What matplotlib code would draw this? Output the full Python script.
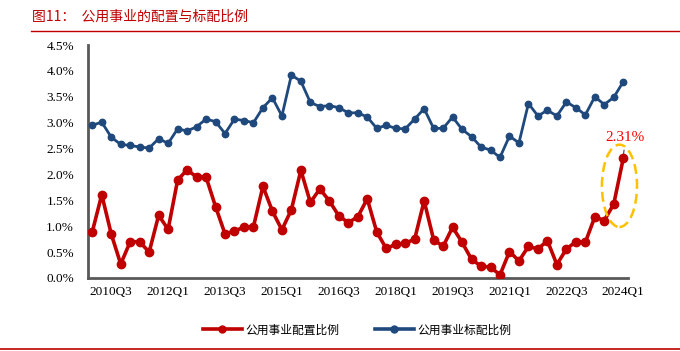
import matplotlib.pyplot as plt
from matplotlib.patches import Ellipse
from matplotlib.lines import Line2D
import numpy as np

plt.rcParams['font.family'] = ['Liberation Serif', 'Noto Sans CJK SC']

quarters = [f"{y}Q{q}" for y in range(2010, 2025) for q in range(1, 5)]
quarters = quarters[:quarters.index("2024Q1") + 1]

# 公用事业配置比例 (%)
alloc = [0.89, 1.61, 0.85, 0.27, 0.70, 0.70, 0.50, 1.21, 0.94, 1.89,
         2.09, 1.95, 1.95, 1.38, 0.85, 0.91, 0.98, 0.99, 1.77, 1.29,
         0.93, 1.32, 2.08, 1.46, 1.72, 1.49, 1.20, 1.07, 1.18, 1.53,
         0.89, 0.57, 0.65, 0.67, 0.75, 1.49, 0.74, 0.61, 0.98, 0.69,
         0.36, 0.23, 0.21, 0.06, 0.51, 0.33, 0.61, 0.56, 0.72, 0.26,
         0.56, 0.70, 0.69, 1.18, 1.11, 1.43, 2.31]
# 公用事业标配比例 (%)
bench = [2.95, 3.01, 2.72, 2.58, 2.56, 2.53, 2.51, 2.69, 2.60, 2.88,
         2.84, 2.92, 3.07, 3.02, 2.79, 3.07, 3.04, 3.00, 3.29, 3.48,
         3.13, 3.92, 3.80, 3.39, 3.31, 3.33, 3.29, 3.19, 3.19, 3.11,
         2.89, 2.95, 2.89, 2.88, 3.07, 3.27, 2.89, 2.89, 3.11, 2.87,
         2.73, 2.53, 2.47, 2.33, 2.74, 2.61, 3.37, 3.13, 3.24, 3.13,
         3.40, 3.29, 3.15, 3.50, 3.35, 3.49, 3.79]

RED = "#C00000"
BLUE = "#1F497D"

fig = plt.figure(figsize=(6.8, 3.51), dpi=100)
ax = fig.add_axes([88 / 680, 1 - 278 / 351, 540 / 680, 233 / 351])

x = np.arange(len(quarters))
ax.plot(x, bench, color=BLUE, lw=2.0, marker="o", ms=4.6, zorder=3)
ax.plot(x, alloc, color=RED, lw=2.6, marker="o", ms=6.0, zorder=4)

ax.set_xlim(-0.45, len(quarters) - 0.5)
ax.set_ylim(0, 4.5)
ax.set_yticks(np.arange(0, 4.51, 0.5))
ax.set_yticklabels([f"{v:.1f}%" for v in np.arange(0, 4.51, 0.5)])
ticks = list(range(2, len(quarters), 6))
ax.set_xticks(ticks)
ax.set_xticklabels([quarters[i] for i in ticks])
ax.tick_params(axis="both", length=0, labelsize=9.5, colors="black", pad=6)
ax.tick_params(axis="y", pad=10)

for side in ("top", "right"):
    ax.spines[side].set_visible(False)
for side in ("left", "bottom"):
    ax.spines[side].set_color("#595959")
    ax.spines[side].set_linewidth(2.0)

# highlight last value
last = len(alloc) - 1
ax.add_patch(Ellipse((last - 0.4, 1.78), 3.7, 1.59, fill=False, clip_on=False,
                     edgecolor="#FFC000", lw=1.8, ls=(0, (4, 2)), zorder=5))
ax.annotate(f"{alloc[-1]:.2f}%", xy=(last, alloc[-1]), xytext=(last + 0.2, alloc[-1] + 0.27),
            color="#FF0000", fontsize=11, ha="center", va="bottom",
            arrowprops=dict(arrowstyle="-", color="black", lw=0.6))

handles = [Line2D([], [], color=RED, lw=2.6, marker="o", ms=5),
           Line2D([], [], color=BLUE, lw=2.6, marker="o", ms=5)]
fig.legend(handles, ["公用事业配置比例", "公用事业标配比例"], loc="center",
           bbox_to_anchor=(357 / 680, 1 - 330 / 351), ncol=2, frameon=False,
           prop={"family": "Noto Sans CJK SC", "size": 8.5},
           handlelength=3.3, columnspacing=3.0, handletextpad=0.3)

fig.text(32 / 680, 1 - 17 / 351, "图11：  公用事业的配置与标配比例", color=RED,
         fontsize=10, va="center", ha="left", family=["Noto Sans CJK SC"])
fig.add_artist(Line2D([31 / 680, 1], [1 - 31 / 351] * 2, color=RED, lw=1.0))
fig.add_artist(Line2D([0, 1], [1 - 349 / 351] * 2, color=RED, lw=1.2))

fig.savefig("out.png", dpi=100)
